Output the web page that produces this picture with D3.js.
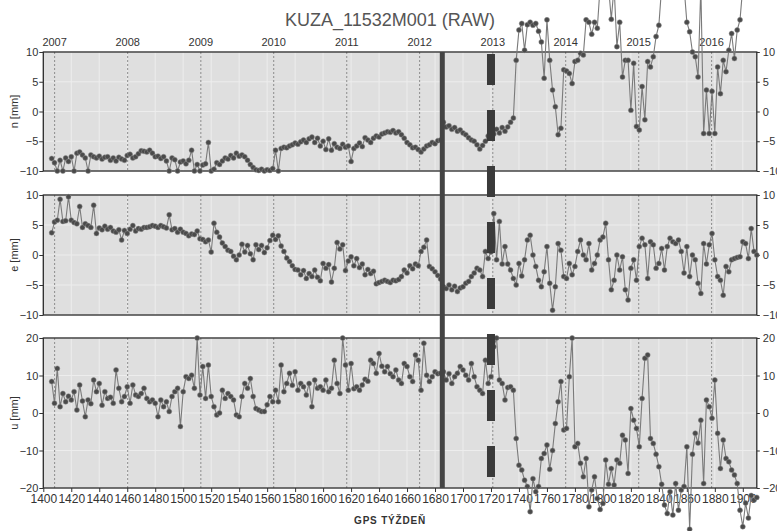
<!DOCTYPE html>
<html>
<head>
<meta charset="utf-8">
<script src="https://cdnjs.cloudflare.com/ajax/libs/d3/7.8.5/d3.min.js"></script>
<style>
  body { margin: 0; background: #fff; }
  svg { display: block; }
  text { font-family: "Liberation Sans", Arial, sans-serif; fill: #333; }
  .tick text { font-size: 11px; fill: #333; }
  .tick line { stroke: #333; }
  .bottomAxis .tick text { font-family: "Liberation Sans Narrow", "Liberation Sans", Arial, sans-serif; font-size: 12px; }
</style>
</head>
<body>
<script>
  var w = 777; //svg width
  var h = 531; //svg height

  //DATA - one value every 2 GPS weeks, starting at week 1406
  var startWeek = 1406;
  var stepWeeks = 2;

  var nValues = [
    -7.9, -8.6, -10, -8.2, -10, -7.8, -8.4, -7.6, -10, -7,        //1406
    -6.8, -7.3, -7.8, -10, -7.3, -7.6, -7.8, -7.5, -8, -7.7,      //1426
    -7.6, -8.2, -7.8, -8.3, -7.7, -8, -8.2, -7.4, -7.2, -7.8,     //1446
    -7.6, -7.1, -6.6, -6.7, -6.8, -6.5, -7, -7.6, -7.5, -7.9,     //1466
    -7.6, -8.3, -10, -7.8, -8.1, -10, -8.5, -8.3, -8.8, -8.2,     //1486
    -6.5, -10, -8.9, -10, -9, -8.8, -5.2, -10, -9.7, -8.6,        //1506
    -8.9, -8.3, -7.8, -8, -7.4, -7.8, -7, -7.5, -7.3, -7.6,       //1526
    -8.2, -8.9, -9.4, -9.8, -9.9, -9.7, -10, -9.8, -9.9, -9.6,    //1546
    -6.5, -10, -6.2, -6, -6.1, -5.8, -5.6, -5.3, -5.5, -5.1,      //1566
    -4.8, -5.2, -4.6, -4.3, -5.2, -4.5, -5.8, -5, -6.4, -4.6,     //1586
    -6.5, -5.4, -6, -6.2, -5.5, -6, -5.8, -8.4, -6.2, -5.8,       //1606
    -5.3, -5.9, -4.4, -4.8, -5.2, -4.5, -4.1, -4.3, -3.8, -3.6,   //1626
    -3.4, -3.5, -3.2, -3.6, -3.4, -3.9, -4.5, -5.2, -5.6, -6.1,   //1646
    -6, -6.4, -6.8, -6.3, -5.8, -5.6, -5.2, -5.4, -4.9, -4.8,     //1666
    -1.8, -2.6, -2.4, -3, -2.7, -3.3, -3.1, -3.6, -3.9, -4.4,     //1686
    -4.8, -5, -5.6, -6.3, -5.7, -5, -4.1, -3.2, -3.8, -3,         //1706
    -3.6, -2.7, -3.3, -2.6, -1.8, -1.1, 8.6, 13.7, 14.8, 10.3,    //1726
    14.6, 15, 14.5, 14.8, 13.5, 11.7, 5.6, 15.4, 8.6, 3.6,        //1746
    0.8, -3.9, -2.8, 7, 6.8, 6.4, 4.7, 8.4, 8.6, 9.8,             //1766
    9.5, 15.4, 15, 13, 15, 14, 21, 21, 21, 21,                    //1786
    15.5, 21, 10.9, 15, 5.8, 8.6, 8.6, 0.2, 8.1, -2.5,            //1806
    -3.1, 4.2, -1.4, 8.4, 7.5, 9.2, 12.6, 14.5, 21, 21,           //1826
    21, 21, 21, 21, 21, 21, 21, 15, 13.4, 10,                     //1846
    9.2, 5.8, 21, -3.7, 3.6, -3.7, 3.4, -3.7, 7.5, 3,             //1866
    8.6, 6.7, 10.3, 13.1, 8.9, 13.7, 15.4, 21, 21, 21,            //1886
    21, 21, 21                                                    //1906
  ];

  var eValues = [
    3.7, 5.5, 5.8, 9.3, 5.6, 5.7, 9.7, 5.8, 5.4, 5.2,             //1406
    8.1, 4.6, 5.2, 4.9, 4.6, 8.3, 3.6, 4.5, 4.2, 4.8,             //1426
    4.3, 4.6, 4, 3.8, 4.2, 2.5, 4.1, 3.6, 4.3, 4.9,               //1446
    4, 4.4, 4.3, 4.6, 4.6, 4.7, 4.9, 4.8, 4.6, 4.9,               //1466
    4.7, 4.5, 6.7, 4.2, 4.4, 3.8, 4.3, 3.8, 3.6, 3.2,             //1486
    3.5, 3.4, 4, 2.7, 2.6, 2.2, 2.5, 0.5, 5.3, 3.8,               //1506
    3, 2, 1.4, 0.8, 0.6, -0.2, -0.8, 0, 1.8, 0.5,                 //1526
    1.6, 0.2, -0.8, 1.7, 0.9, 1.6, 0.4, 1.2, 2.4, 3.3,            //1546
    2.6, 3.2, 1.5, 0.6, -0.5, -1.1, -1.8, -2.4, -2.5, -3.3,       //1566
    -2.6, -3.9, -3.1, -3.6, -2.5, -3.7, -4.3, -1.4, -2.2, -1.6,   //1586
    -4.5, -2.2, 2.1, 1, 1.7, -2.6, -1, -0.3, -1.8, -0.6,          //1606
    -2.1, -1.5, -3.3, -2.4, -3.1, -2.7, -4.8, -4.6, -4.4, -4.2,   //1626
    -4.4, -4.6, -4.2, -4.3, -4.1, -3.6, -2.5, -3, -1.8, -2.3,     //1646
    -1.5, -1.8, 0.6, 1.3, 2.5, -1.9, -2.3, -2.8, -3.4, -4,        //1666
    -5.3, -5.6, -5, -5.8, -5.2, -6.1, -5.5, -5.3, -4.7, -4.4,     //1686
    -3.6, -3, -2.2, -2.5, -3.6, 0.6, -0.6, 0.5, 6.9, -0.8,        //1706
    5.6, -1.5, 1.4, -1.5, -2.5, -3.9, -5, -1.4, -3.5, -0.8,       //1726
    2.5, 3.3, 0, -1.9, -4.2, -5.3, -2.8, 1.4, -4.7, -9.2,         //1746
    -5.3, 1.9, 0.8, -3.6, -3.9, -1.4, -3.3, -1.9, 0.6, 2.5,       //1766
    0, -0.8, 1.9, -2.5, -1.4, 0, 2.5, 3, 5.3, -0.8,               //1786
    -5.8, -4.2, 0, -2.5, -0.3, -5.8, -7.5, -2.2, -0.8, -4.2,      //1806
    1.4, 2.8, 1.7, -3.9, 2.2, 1.7, -2.2, -1.4, 1.1, -2.5,         //1826
    1.4, 2.8, 2.2, 1.9, 2.5, 0.6, -3, 1.4, -3.6, 0,               //1846
    -0.8, -4.7, -6.4, 1.9, -1.5, 1.7, 3.6, -0.8, -3.6, -4.2,      //1866
    -6.7, -1.9, -2.8, -0.8, -0.6, -0.4, -0.3, 2.2, 1.9, -0.6,     //1886
    4.4, 0.6, 0                                                   //1906
  ];

  var uValues = [
    8.4, 2.6, 11.9, 1.7, 5.2, 3, 4.5, 3.5, 5.7, 0.8,              //1406
    7.5, 3.2, -1, 3.5, 2.5, 8.8, 5.7, 7.9, 2.1, 5.7,              //1426
    3.9, 4.2, 2.6, 11.5, 6.6, 3, 4.4, 7, 2.6, 7.5,                //1446
    4.8, 4.4, 5.2, 6.6, 3.9, 3, 3.5, 2.6, -1, 3.5,                //1466
    1.7, 3, 0.4, 4.4, 5.7, 6.6, -3.6, 5.7, 9.7, 9.2,              //1486
    10.1, 6.6, 20, 4.8, 12.4, 3.9, 12.8, 4.4, 1.7, -0.5,          //1506
    0, 6.1, 3.9, 5.2, 4.4, 3.5, -0.5, -1, 4.4, 7.9,               //1526
    6.6, 9.2, 4.4, 1.2, 0.8, 0.4, 0.4, 2.2, 4.4, 3,               //1546
    6.1, 3, 12.8, 5.7, 7.9, 10.6, 7.4, 11, 6.1, 7.9,              //1566
    7, 4.8, 7.9, 1.7, 8.8, 6.6, 7, 6.1, 8.8, 5.7,                 //1586
    6.6, 14.1, 7.9, 5.2, 20, 12.8, 6.1, 13.2, 6.5, 7,             //1606
    6.1, 7.5, 9, 8.5, 14.1, 13.2, 10.6, 15.9, 12.5, 11,           //1626
    12.4, 10.5, 9.7, 11.5, 8.8, 7.9, 13.2, 12.4, 9.7, 8.4,        //1646
    15.5, 14.1, 6.1, 18.6, 10.1, 8.4, 9.7, 11, 10.5, 10.6,        //1666
    11, 8.8, 10.5, 7.9, 9.7, 10.6, 12.4, 11.5, 10.1, 8.8,         //1686
    13.2, 9.7, 7, 6.1, 5.2, 14.1, 7.9, 9.7, 17.7, 20,             //1706
    8.8, 7.9, 3.5, 6.8, 7, 6.1, -6.8, -13.9, -15.2, -17.9,        //1726
    -19.6, -26.3, -17.5, -21, -19.6, -12.1, -10.8, -8.5, -15, -10, //1746
    -2.8, 3, 8.4, -4.5, -4.1, 9.7, 20, -9, -8.1, -13.4,           //1766
    -17, -12.1, -25, -20.5, -17, -22.8, -25.7, -24.1, -12.5, -19, //1786
    -14.8, -19.2, -12.5, -13.4, -5.9, -7.2, -16.1, 1.2, -1.9, -4.1, //1806
    -9, 3.9, 14.6, 15.5, -6.8, -8.1, -11, -14.3, -19, -24.5,      //1826
    -26.8, -21, -27.2, -18.8, -25.9, -20.5, -19.6, -9, -31, -11,  //1846
    -5.4, -8, -1.9, -18.8, 3.5, 1.7, -1.4, 8.8, -5.4, -14.8,      //1866
    -7.2, -12.1, -13, -15.2, -16.5, -18.8, -25.9, -30.3, -24, -28, //1886
    -22, -23.2, -22.5                                             //1906
  ];

  //tick labels
  var weekTicks = [1400, 1420, 1440, 1460, 1480, 1500, 1520, 1540, 1560, 1580, 1600, 1620, 1640,
      1660, 1680, 1700, 1720, 1740, 1760, 1780, 1800, 1820, 1840, 1860, 1880, 1900];
  var neTicks = [-10, -5, 0, 5, 10];
  var uTicks = [-20, -10, 0, 10, 20];
  var yearLabels = ["2007", "2008", "2009", "2010", "2011", "2012", "2013", "2014", "2015", "2016"];
  var yearWeeks = [1408.1, 1460.3, 1512.6, 1564.7, 1616.9, 1669.0, 1721.3, 1773.4, 1825.6, 1877.7];
  var eventWeeks = [1685.2, 1720]; //solid line, dashed line

  //panels
  var panels = [
      { label: "n [mm]", values: nValues, top: 52, bottom: 171, domain: [-10, 10], ticks: neTicks },
      { label: "e [mm]", values: eValues, top: 195, bottom: 315, domain: [-10, 10], ticks: neTicks },
      { label: "u [mm]", values: uValues, top: 338, bottom: 488, domain: [-20, 20], ticks: uTicks }
  ];

  //SCALES
  var x = d3.scaleLinear()
      .domain([1400, 1910])
      .range([43.3, 756.8]);

  var svg = d3.select("body")
      .append("svg")
      .attr("width", w)
      .attr("height", h);

  //title
  svg.append("text")
      .attr("x", 390)
      .attr("y", 26)
      .attr("text-anchor", "middle")
      .style("font-size", "18px")
      .style("fill", "#555")
      .text("KUZA_11532M001 (RAW)");

  //year labels on top
  svg.selectAll(".yearLabel")
      .data(yearLabels)
      .enter()
      .append("text")
      .attr("class", "yearLabel")
      .attr("x", function(d, i) { return x(yearWeeks[i]); })
      .attr("y", 46)
      .attr("text-anchor", "middle")
      .style("font-size", "11px")
      .text(function(d) { return d; });

  panels.forEach(function(p) {
      p.y = d3.scaleLinear()
          .domain(p.domain)
          .range([p.bottom, p.top]);

      var g = svg.append("g");

      g.append("rect")
          .attr("x", x.range()[0])
          .attr("y", p.top)
          .attr("width", x.range()[1] - x.range()[0])
          .attr("height", p.bottom - p.top)
          .attr("fill", "#dfdfdf");

      //grid
      g.selectAll(".hGrid")
          .data(p.ticks)
          .enter()
          .append("line")
          .attr("x1", x.range()[0])
          .attr("x2", x.range()[1])
          .attr("y1", function(d) { return p.y(d); })
          .attr("y2", function(d) { return p.y(d); })
          .attr("stroke", "#ededed");

      g.selectAll(".vGrid")
          .data(weekTicks)
          .enter()
          .append("line")
          .attr("x1", function(d) { return x(d); })
          .attr("x2", function(d) { return x(d); })
          .attr("y1", p.top)
          .attr("y2", p.bottom)
          .attr("stroke", "#ededed");

      g.selectAll(".yearLine")
          .data(yearWeeks)
          .enter()
          .append("line")
          .attr("x1", function(d) { return x(d); })
          .attr("x2", function(d) { return x(d); })
          .attr("y1", p.top)
          .attr("y2", p.bottom)
          .attr("stroke", "#8c8c8c")
          .attr("stroke-dasharray", "2,2");

      g.append("rect")
          .attr("x", x.range()[0])
          .attr("y", p.top)
          .attr("width", x.range()[1] - x.range()[0])
          .attr("height", p.bottom - p.top)
          .attr("fill", "none")
          .attr("stroke", "#2b2b2b")
          .attr("stroke-width", 1.3);

      //AXES
      var left = g.append("g")
          .attr("transform", "translate(" + x.range()[0] + ",0)")
          .call(d3.axisLeft(p.y).tickValues(p.ticks).tickSize(4).tickPadding(1));
      left.select(".domain").remove();

      var right = g.append("g")
          .attr("transform", "translate(" + x.range()[1] + ",0)")
          .call(d3.axisRight(p.y).tickValues(p.ticks).tickSize(3).tickPadding(3));
      right.select(".domain").remove();

      g.append("text")
          .attr("transform", "translate(18," + (p.top + p.bottom) / 2 + ") rotate(-90)")
          .attr("text-anchor", "middle")
          .style("font-size", "11px")
          .text(p.label);
  });

  //bottom axis
  var bottom = svg.append("g")
      .attr("class", "bottomAxis")
      .attr("transform", "translate(0," + panels[2].bottom + ")")
      .call(d3.axisBottom(x).tickValues(weekTicks).tickSize(4).tickPadding(2).tickFormat(d3.format("d")));
  bottom.select(".domain").remove();

  svg.append("text")
      .attr("x", 390)
      .attr("y", 524)
      .attr("text-anchor", "middle")
      .style("font-size", "10px")
      .style("font-weight", "bold")
      .style("letter-spacing", "0.8px")
      .text("GPS TÝŽDEŇ");

  //SERIES
  panels.forEach(function(p) {
      var pts = p.values.map(function(v, i) {
          return { week: startWeek + i * stepWeeks, value: v };
      });

      var line = d3.line()
          .x(function(d) { return x(d.week); })
          .y(function(d) { return p.y(d.value); });

      svg.append("path")
          .datum(pts)
          .attr("d", line)
          .attr("fill", "none")
          .attr("stroke", "#7a7a7a")
          .attr("stroke-width", 1.1);

      svg.append("g")
          .selectAll("circle")
          .data(pts)
          .enter()
          .append("circle")
          .attr("cx", function(d) { return x(d.week); })
          .attr("cy", function(d) { return p.y(d.value); })
          .attr("r", 2.5)
          .attr("fill", "#4a4a4a")
          .attr("stroke", "#8a8a8a")
          .attr("stroke-width", 0.5);
  });

  //EVENT LINES
  svg.append("line")
      .attr("x1", x(eventWeeks[0]))
      .attr("x2", x(eventWeeks[0]))
      .attr("y1", panels[0].top)
      .attr("y2", panels[2].bottom)
      .attr("stroke", "#444")
      .attr("stroke-width", 5);

  svg.append("line")
      .attr("x1", x(eventWeeks[1]))
      .attr("x2", x(eventWeeks[1]))
      .attr("y1", panels[0].top + 2)
      .attr("y2", panels[2].bottom)
      .attr("stroke", "#3a3a3a")
      .attr("stroke-width", 8)
      .attr("stroke-dasharray", "31,25");
</script>
</body>
</html>
